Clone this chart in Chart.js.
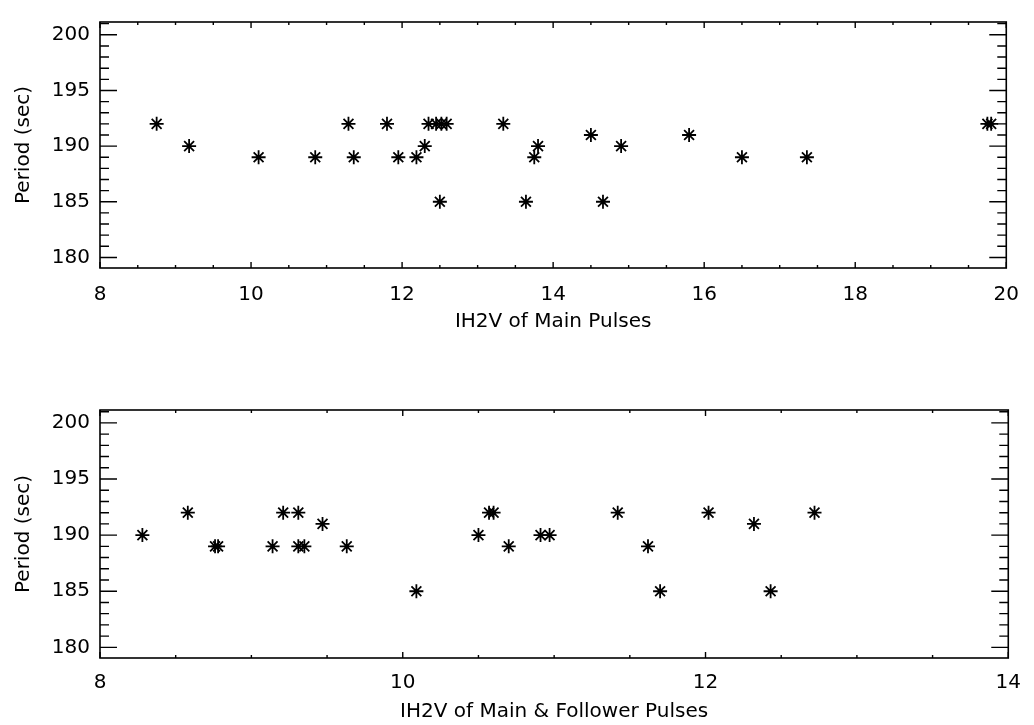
<!DOCTYPE html>
<html>
<head>
<meta charset="utf-8">
<script src="https://cdn.jsdelivr.net/npm/chart.js@4.4.1/dist/chart.umd.min.js"></script>
<style>
    body { margin: 0; background: #fff; }
    .panel { position: absolute; left: 0; width: 1034px; }
    #top { top: 0; height: 362px; }
    #bottom { top: 388px; height: 337px; }
</style>
</head>
<body>
<div class="panel" id="top"><canvas id="mainChart" width="1034" height="362"></canvas></div>
<div class="panel" id="bottom"><canvas id="followerChart" width="1034" height="337"></canvas></div>
<script>
// IH2V vs period, main pulses only
const mainX = [8.75, 9.18, 10.10, 10.85, 11.29, 11.36, 11.80, 11.95, 12.19, 12.30,
               12.35, 12.45, 12.52, 12.59, 12.50, 13.34, 13.64, 13.75, 13.80, 14.50,
               14.66, 14.90, 15.80, 16.50, 17.36, 19.75, 19.80];
const mainY = [192, 190, 189, 189, 192, 189, 192, 189, 189, 190,
               192, 192, 192, 192, 185, 192, 185, 189, 190, 191,
               185, 190, 191, 189, 189, 192, 192];

// IH2V vs period, main & follower pulses
const followX = [8.28, 8.58, 8.76, 8.78, 9.14, 9.21, 9.31, 9.31, 9.35, 9.47,
                 9.63, 10.09, 10.50, 10.57, 10.60, 10.70, 10.91, 10.97, 11.42, 11.62,
                 11.70, 12.02, 12.32, 12.43, 12.72];
const followY = [190, 192, 189, 189, 189, 192, 192, 189, 189, 191,
                 189, 185, 190, 192, 192, 189, 190, 190, 192, 189,
                 185, 192, 191, 185, 192];

const periodTicks = [180, 185, 190, 195, 200];
const periodMin = 179.05;
const periodMax = 201.15;

const font = { family: "DejaVu Sans", size: 20 };

// box round the plot with inward ticks on all four sides
const framePlugin = {
    id: "frame",
    beforeDatasetsDraw(chart) {
        const ctx = chart.ctx;
        const a = chart.chartArea;
        const xs = chart.scales.x;
        const ys = chart.scales.y;

        ctx.save();
        ctx.strokeStyle = "#000";
        ctx.lineWidth = 1.6;
        ctx.strokeRect(a.left, a.top, a.right - a.left, a.bottom - a.top);

        ctx.lineWidth = 1.4;
        ctx.beginPath();
        for (let v = xs.min; v <= xs.max + 1e-9; v += 0.5) {
            const px = xs.getPixelForValue(v);
            const len = Math.abs(v % 2) < 1e-9 ? 6 : 3;
            ctx.moveTo(px, a.bottom);
            ctx.lineTo(px, a.bottom - len);
            ctx.moveTo(px, a.top);
            ctx.lineTo(px, a.top + len);
        }
        for (let v = Math.ceil(ys.min); v <= ys.max; v += 1) {
            const py = ys.getPixelForValue(v);
            const len = v % 5 === 0 ? 17 : 9;
            ctx.moveTo(a.left, py);
            ctx.lineTo(a.left + len, py);
            ctx.moveTo(a.right, py);
            ctx.lineTo(a.right - len, py);
        }
        ctx.stroke();
        ctx.restore();
    }
};

function makeChart(canvasId, xs, ys, xMax, xTitle, axisHeight, labelPad, titlePad) {
    const points = xs.map((x, i) => ({ x: x, y: ys[i] }));

    return new Chart(document.getElementById(canvasId), {
        type: "scatter",
        data: {
            datasets: [{
                data: points,
                pointStyle: "star",
                pointRadius: 7,
                pointHoverRadius: 7,
                borderColor: "#000",
                backgroundColor: "#000",
                borderWidth: 1.8
            }]
        },
        options: {
            responsive: false,
            animation: false,
            events: [],
            layout: { padding: { top: 10, right: 21, left: 0, bottom: 0 } },
            plugins: { legend: { display: false }, tooltip: { enabled: false } },
            scales: {
                x: {
                    type: "linear",
                    min: 8,
                    max: xMax,
                    grid: { display: false, drawTicks: false },
                    border: { display: false },
                    ticks: { stepSize: 2, color: "#000", font: font, padding: labelPad, maxRotation: 0 },
                    title: { display: true, text: xTitle, color: "#000", font: font, padding: { top: 0, bottom: titlePad } },
                    afterFit(scale) { scale.height = axisHeight; }
                },
                y: {
                    type: "linear",
                    min: periodMin,
                    max: periodMax,
                    grid: { display: false, drawTicks: false },
                    border: { display: false },
                    ticks: { color: "#000", font: font, padding: 10 },
                    title: { display: true, text: "Period (sec)", color: "#000", font: font, padding: { top: 12, bottom: 0 } },
                    afterBuildTicks(scale) {
                        scale.ticks = periodTicks.map(v => ({ value: v }));
                    },
                    afterFit(scale) { scale.width = 100; }
                }
            }
        },
        plugins: [framePlugin]
    });
}

makeChart("mainChart", mainX, mainY, 20, "IH2V of Main Pulses", 94, 15, 28);
makeChart("followerChart", followX, followY, 14, "IH2V of Main & Follower Pulses", 67, 13, 1);
</script>
</body>
</html>
